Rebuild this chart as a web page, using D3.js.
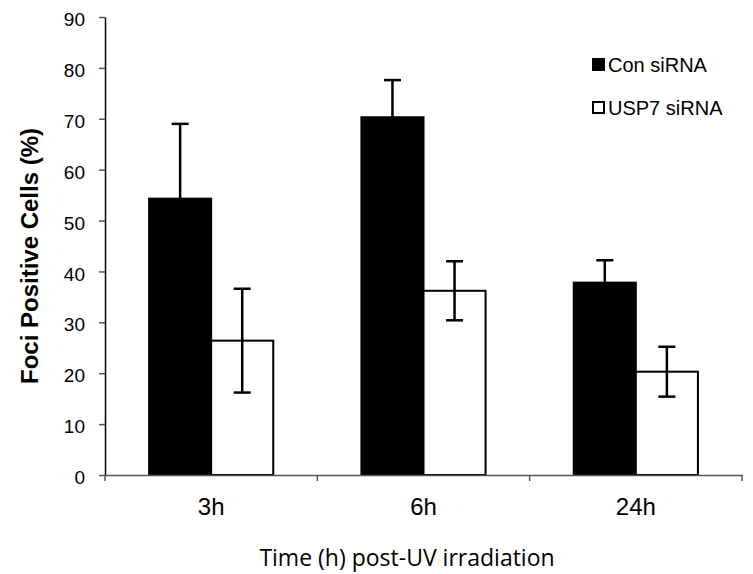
<!DOCTYPE html>
<html><head><meta charset="utf-8">
<script src="https://cdn.jsdelivr.net/npm/d3@7"></script>
<style>body{margin:0;background:#fff}svg{display:block}</style>
</head><body>
<svg id="c" width="753" height="574"></svg>
<script>
const categories = ["3h", "6h", "24h"];
const seriesNames = ["Con siRNA", "USP7 siRNA"];
const conValues = [54.3, 70.3, 37.8];
const conErrors = [14.7, 7.3, 4.4];
const uspValues = [26.4, 36.2, 20.3];
const uspErrors = [10.2, 5.8, 4.9];
const yTicks = [0, 10, 20, 30, 40, 50, 60, 70, 80, 90];

(function () {
const svg = d3.select("#c");
const mLeft = 105, mRight = 742, mTop = 17, mBottom = 475;

const x0 = d3.scaleBand().domain(categories).range([mLeft, mRight]).paddingInner(0).paddingOuter(0);
const x1 = d3.scaleBand().domain(seriesNames).range([0, x0.bandwidth()]).paddingInner(0).paddingOuter(0.71);
const y = d3.scaleLinear().domain([0, 90]).range([mBottom, mTop]);

const data = [];
categories.forEach((c, i) => {
  data.push({cat: c, s: seriesNames[0], v: conValues[i], e: conErrors[i]});
  data.push({cat: c, s: seriesNames[1], v: uspValues[i], e: uspErrors[i]});
});
const fill = {"Con siRNA": "#000", "USP7 siRNA": "#fff"};

// bars
svg.append("g").selectAll("rect").data(data).join("rect")
  .attr("x", d => x0(d.cat) + x1(d.s))
  .attr("y", d => y(d.v))
  .attr("width", x1.bandwidth())
  .attr("height", d => y(0) - y(d.v))
  .attr("fill", d => fill[d.s])
  .attr("stroke", "#000")
  .attr("stroke-width", 2);

// error bars
const eg = svg.append("g").attr("stroke", "#000").attr("stroke-width", 2.5);
data.forEach(d => {
  const cx = x0(d.cat) + x1(d.s) + x1.bandwidth() / 2;
  eg.append("line").attr("x1", cx).attr("x2", cx).attr("y1", y(d.v - d.e)).attr("y2", y(d.v + d.e));
  eg.append("line").attr("x1", cx - 8.5).attr("x2", cx + 8.5).attr("y1", y(d.v + d.e)).attr("y2", y(d.v + d.e));
  eg.append("line").attr("x1", cx - 8.5).attr("x2", cx + 8.5).attr("y1", y(d.v - d.e)).attr("y2", y(d.v - d.e));
});

// y axis
const ya = svg.append("g").attr("transform", `translate(${mLeft},0)`)
  .call(d3.axisLeft(y).tickValues(yTicks).tickSize(6).tickPadding(14).tickSizeOuter(0));
ya.select(".domain").attr("stroke", "#000").attr("stroke-width", 1.5);
ya.selectAll(".tick line").attr("stroke", "#555").attr("stroke-width", 1.5);
ya.selectAll(".tick text").attr("font-family", "Liberation Sans, Arial, sans-serif").attr("font-size", 19).attr("fill", "#000").attr("dy", "0.45em");

// x axis
const xa = svg.append("g").attr("transform", `translate(0,${mBottom})`)
  .call(d3.axisBottom(x0).tickSize(0).tickPadding(23).tickSizeOuter(0));
xa.select(".domain").attr("stroke", "#555").attr("stroke-width", 1.5);
xa.selectAll(".tick text").attr("font-family", "Liberation Sans, Arial, sans-serif").attr("font-size", 24).attr("fill", "#000");
const bounds = categories.map(c => x0(c)).concat([x0(categories[categories.length - 1]) + x0.bandwidth()]);
xa.selectAll("line.bt").data(bounds).join("line").attr("class", "bt")
  .attr("x1", d => d).attr("x2", d => d).attr("y1", 0).attr("y2", 6)
  .attr("stroke", "#555").attr("stroke-width", 1.5);

// axis titles
svg.append("text")
  .attr("transform", "translate(38,256) rotate(-90)")
  .attr("text-anchor", "middle")
  .attr("font-family", "Liberation Sans, Arial, sans-serif")
  .attr("font-weight", "bold").attr("font-size", 24)
  .text("Foci Positive Cells (%)");
svg.append("text")
  .attr("x", 407).attr("y", 566)
  .attr("text-anchor", "middle")
  .attr("font-family", "Open Sans, sans-serif").attr("font-size", 23)
  .text("Time (h) post-UV irradiation");

// legend
const lg = svg.append("g");
seriesNames.forEach((s, i) => {
  const yy = 72 + i * 43;
  lg.append("rect").attr("x", 593).attr("y", yy - 13).attr("width", 11).attr("height", 11)
    .attr("fill", fill[s]).attr("stroke", "#000").attr("stroke-width", 2);
  lg.append("text").attr("x", 608).attr("y", yy)
    .attr("font-family", "Liberation Sans, Arial, sans-serif").attr("font-size", 20)
    .text(s);
});
})();
</script>
</body></html>
